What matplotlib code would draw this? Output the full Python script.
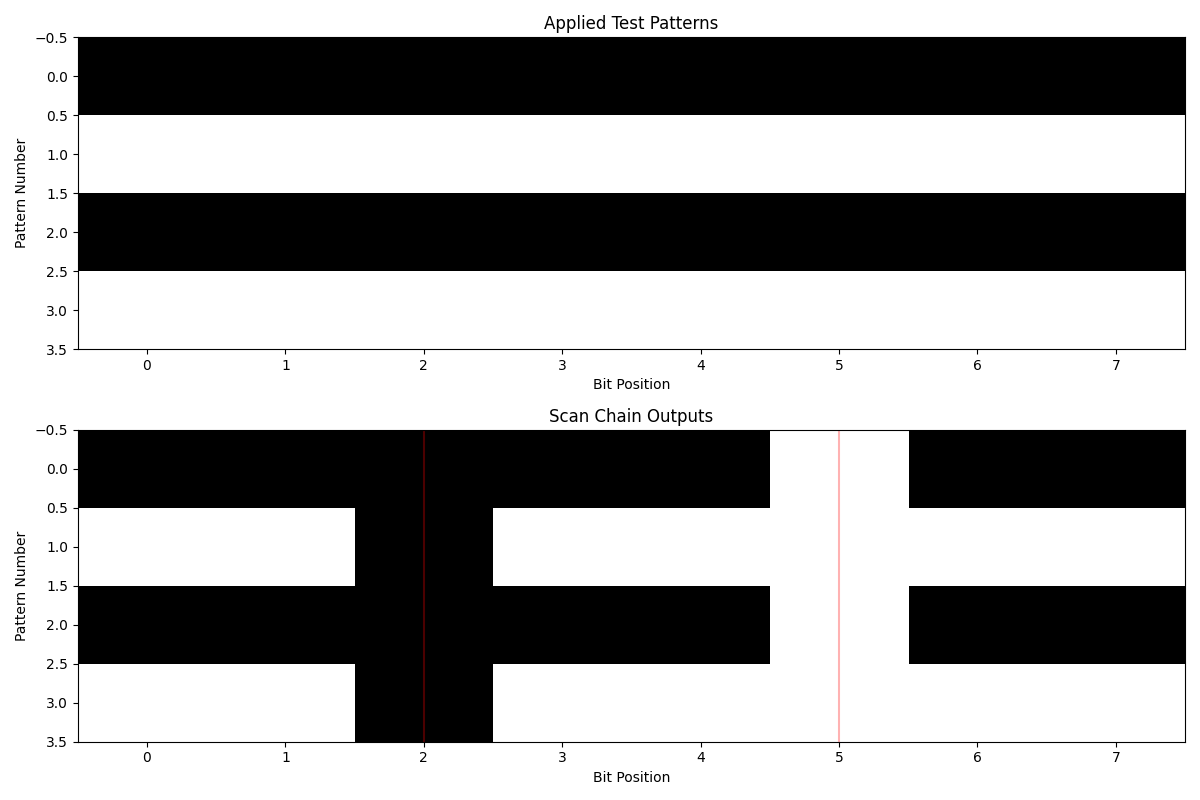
import numpy as np
import matplotlib
matplotlib.use("Agg")
import matplotlib.pyplot as plt

# applied patterns (1 = black)
patterns = [
    [1, 1, 1, 1, 1, 1, 1, 1],
    [0, 0, 0, 0, 0, 0, 0, 0],
    [1, 1, 1, 1, 1, 1, 1, 1],
    [0, 0, 0, 0, 0, 0, 0, 0],
]
# scan outputs: bit 2 stuck-at-1, bit 5 stuck-at-0
outputs = [
    [1, 1, 1, 1, 1, 0, 1, 1],
    [0, 0, 1, 0, 0, 0, 0, 0],
    [1, 1, 1, 1, 1, 0, 1, 1],
    [0, 0, 1, 0, 0, 0, 0, 0],
]
fault_bits = [2, 5]

fig, (ax1, ax2) = plt.subplots(2, 1, figsize=(12, 8))

ax1.imshow(np.array(patterns), cmap="binary", aspect="auto")
ax1.set_title("Applied Test Patterns")
ax1.set_xlabel("Bit Position")
ax1.set_ylabel("Pattern Number")

ax2.imshow(np.array(outputs), cmap="binary", aspect="auto")
ax2.set_title("Scan Chain Outputs")
ax2.set_xlabel("Bit Position")
ax2.set_ylabel("Pattern Number")
for b in fault_bits:
    ax2.axvline(x=b, color="red", alpha=0.3, linewidth=1.5)

plt.tight_layout()
plt.savefig("out.png", dpi=100)
